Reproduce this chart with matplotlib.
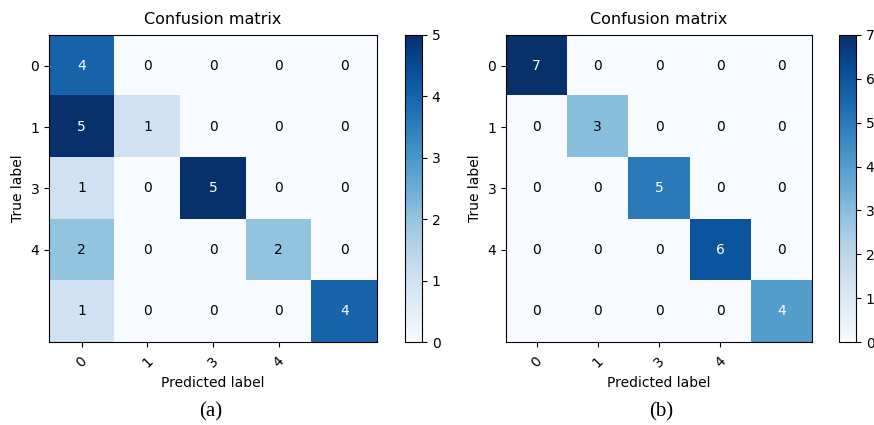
import numpy as np
import matplotlib
matplotlib.use("Agg")
import matplotlib.pyplot as plt

# Class labels shown on the tick marks
class_labels = ["0", "1", "3", "4"]

# Confusion matrices (rows: true label, columns: predicted label)
cm_a = np.array([
    [4, 0, 0, 0, 0],
    [5, 1, 0, 0, 0],
    [1, 0, 5, 0, 0],
    [2, 0, 0, 2, 0],
    [1, 0, 0, 0, 4],
])
cm_b = np.array([
    [7, 0, 0, 0, 0],
    [0, 3, 0, 0, 0],
    [0, 0, 5, 0, 0],
    [0, 0, 0, 6, 0],
    [0, 0, 0, 0, 4],
])
captions = ["(a)", "(b)"]

W, H = 874, 425
fig = plt.figure(figsize=(W / 100, H / 100), dpi=100)


def px_rect(x0, y0, x1, y1):
    return [x0 / W, 1 - y1 / H, (x1 - x0) / W, (y1 - y0) / H]


layouts = [
    dict(ax=(49, 35, 377, 342), cb=(405, 35, 422, 342), cap_x=211),
    dict(ax=(506, 35, 812, 342), cb=(839, 35, 856, 342), cap_x=661),
]

for cm, cap, lay in zip([cm_a, cm_b], captions, layouts):
    ax = fig.add_axes(px_rect(*lay["ax"]))
    cax = fig.add_axes(px_rect(*lay["cb"]))
    im = ax.imshow(cm, interpolation="nearest", cmap=plt.cm.Blues,
                   vmin=0, vmax=cm.max(), aspect="auto")
    ax.set_title("Confusion matrix", fontsize=11.5, pad=8)
    cb = fig.colorbar(im, cax=cax)
    cb.set_ticks(np.arange(0, cm.max() + 1))
    cb.ax.tick_params(labelsize=10)

    ticks = np.arange(len(class_labels))
    ax.set_xticks(ticks)
    ax.set_xticklabels(class_labels, rotation=45, fontsize=10)
    ax.tick_params(axis="x", pad=5)
    ax.set_yticks(ticks)
    ax.set_yticklabels(class_labels, fontsize=10)

    thresh = cm.max() / 2.0
    for i in range(cm.shape[0]):
        for j in range(cm.shape[1]):
            ax.text(j, i, format(cm[i, j], "d"),
                    ha="center", va="center", fontsize=10,
                    color="white" if cm[i, j] > thresh else "black")

    ax.set_ylabel("True label", fontsize=10)
    ax.set_xlabel("Predicted label", fontsize=10, labelpad=4)

    fig.text(lay["cap_x"] / W, 1 - 412 / H, cap, ha="center", va="center",
             fontsize=15, family="Liberation Serif")

fig.savefig("out.png", dpi=100)
